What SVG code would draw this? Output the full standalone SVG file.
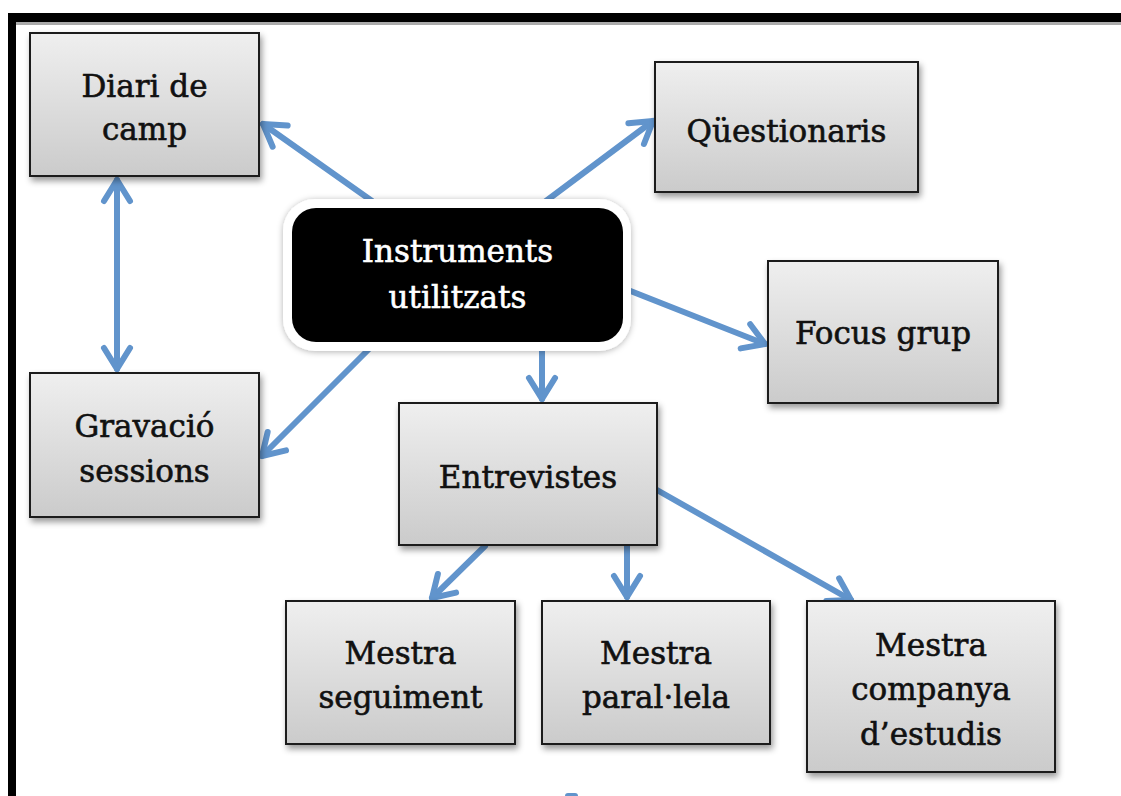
<svg xmlns="http://www.w3.org/2000/svg" width="1121" height="796" viewBox="0 0 1121 796">
  <style>
    .box { fill: url(#boxGrad); stroke: #1c1c1c; stroke-width: 2; filter: url(#shadow); }
    .lbl { font-family: "DejaVu Serif", "Liberation Serif", serif; font-size: 31px; fill: #111; stroke: #111; stroke-width: 0.6; text-anchor: middle; }
    .lblw { font-family: "DejaVu Serif", "Liberation Serif", serif; font-size: 31px; fill: #ffffff; stroke: #ffffff; stroke-width: 0.6; text-anchor: middle; }
    .arr { fill: none; stroke: #6194cc; stroke-width: 6; stroke-linecap: round; marker-end: url(#head); }
  </style>
  <defs>
    <linearGradient id="boxGrad" x1="0" y1="0" x2="0" y2="1">
      <stop offset="0" stop-color="#efefef"/>
      <stop offset="1" stop-color="#cbcbcb"/>
    </linearGradient>
    <filter id="shadow" x="-10%" y="-10%" width="125%" height="130%">
      <feDropShadow dx="2" dy="4" stdDeviation="3" flood-color="#000" flood-opacity="0.4"/>
    </filter>
    <filter id="halo" x="-10%" y="-20%" width="120%" height="140%">
      <feDropShadow dx="0" dy="1" stdDeviation="3" flood-color="#000" flood-opacity="0.3"/>
    </filter>
    <marker id="head" markerUnits="userSpaceOnUse" markerWidth="50" markerHeight="50" viewBox="-30 -25 50 50" refX="0" refY="0" orient="auto-start-reverse" overflow="visible">
      <path d="M -21 -13 L 0 0 L -21 13" fill="none" stroke="#6194cc" stroke-width="6" stroke-linecap="round" stroke-linejoin="round"/>
    </marker>
  </defs>

  <rect width="1121" height="796" fill="#ffffff"/>

  <!-- frame -->
  <g id="frame">
    <rect x="8" y="13" width="1113" height="9" fill="#000"/>
    <rect x="16" y="22" width="1105" height="3" fill="#aaaaaa"/>
    <rect x="8" y="13" width="8" height="783" fill="#000"/>
  </g>

  <g id="connectors">
    <line class="arr" x1="372" y1="201" x2="263" y2="124"/>
    <line class="arr" x1="117" y1="180" x2="117" y2="369" marker-start="url(#head)"/>
    <line class="arr" x1="542" y1="204" x2="653" y2="121"/>
    <line class="arr" x1="628" y1="290" x2="765" y2="344"/>
    <line class="arr" x1="370" y1="348" x2="262" y2="456"/>
    <line class="arr" x1="542" y1="347" x2="542" y2="399"/>
    <line class="arr" x1="485" y1="546" x2="432" y2="598"/>
    <line class="arr" x1="627" y1="546" x2="627" y2="597"/>
    <line class="arr" x1="657" y1="490" x2="851" y2="600"/>
    <rect x="565" y="793" width="13" height="6" rx="3" fill="#6194cc"/>
  </g>

  <g id="central">
    <rect x="283" y="199" width="348" height="152" rx="32" fill="#ffffff" filter="url(#halo)"/>
    <rect x="292" y="208" width="331" height="134" rx="24" fill="#000000"/>
    <text class="lblw" x="457.5" y="262">Instruments</text>
    <text class="lblw" x="457.5" y="308">utilitzats</text>
  </g>

  <g id="diari">
    <rect class="box" x="30" y="33" width="229" height="143"/>
    <text class="lbl" x="144.5" y="97">Diari de</text>
    <text class="lbl" x="144.5" y="140">camp</text>
  </g>

  <g id="questionaris">
    <rect class="box" x="655" y="62" width="263" height="130"/>
    <text class="lbl" x="786.5" y="142">Qüestionaris</text>
  </g>

  <g id="focus">
    <rect class="box" x="768" y="261" width="230" height="142"/>
    <text class="lbl" x="883" y="344">Focus grup</text>
  </g>

  <g id="gravacio">
    <rect class="box" x="30" y="373" width="229" height="144"/>
    <text class="lbl" x="144.5" y="437">Gravació</text>
    <text class="lbl" x="144.5" y="482">sessions</text>
  </g>

  <g id="entrevistes">
    <rect class="box" x="399" y="403" width="258" height="142"/>
    <text class="lbl" x="528" y="488">Entrevistes</text>
  </g>

  <g id="seguiment">
    <rect class="box" x="286" y="601" width="229" height="143"/>
    <text class="lbl" x="400.5" y="664">Mestra</text>
    <text class="lbl" x="400.5" y="708">seguiment</text>
  </g>

  <g id="parallela">
    <rect class="box" x="542" y="601" width="228" height="143"/>
    <text class="lbl" x="656" y="664">Mestra</text>
    <text class="lbl" x="656" y="708">paral·lela</text>
  </g>

  <g id="companya">
    <rect class="box" x="807" y="601" width="248" height="171"/>
    <text class="lbl" x="931" y="656">Mestra</text>
    <text class="lbl" x="931" y="700">companya</text>
    <text class="lbl" x="931" y="745">d’estudis</text>
  </g>
</svg>
